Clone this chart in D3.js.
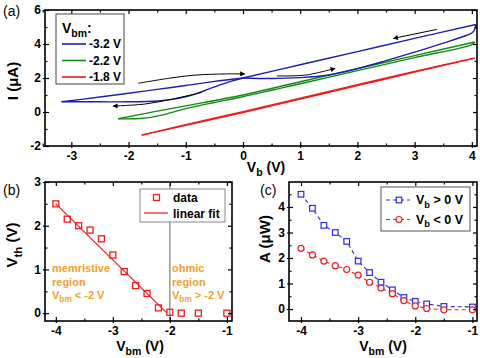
<!DOCTYPE html>
<html>
<head>
<meta charset="utf-8">
<script src="https://cdn.jsdelivr.net/npm/d3@7/dist/d3.min.js"></script>
<style>
  body { margin: 0; background: #fff; }
  svg { font-family: "Liberation Sans", Arial, sans-serif; font-weight: bold; }
</style>
</head>
<body>
<svg id="fig" width="480" height="358"></svg>
<script>
// ---- panel (a): I-V loops, [Vb, I] ----
const blueNegLower = [[0, 2.0], [-0.2, 1.82], [-0.4, 1.6], [-0.6, 1.35], [-0.8, 1.1], [-1.0, 0.9], [-1.2, 0.76], [-1.5, 0.65], [-2.0, 0.6], [-2.5, 0.6], [-3.17, 0.6]];
const blueNegUpper = [[-3.17, 0.6], [-2.5, 0.88], [-2.0, 1.1], [-1.5, 1.33], [-1.0, 1.56], [-0.5, 1.8], [0, 2.0]];
const bluePosLower = [[0, 2.0], [0.5, 1.97], [1.0, 2.02], [1.5, 2.18], [2.0, 2.55], [2.5, 3.02], [3.0, 3.52], [3.5, 4.05], [3.9, 4.5], [4.0, 4.65], [4.05, 4.85], [4.07, 5.15]];
const bluePosUpper = [[4.07, 5.15], [3.0, 4.33], [2.0, 3.55], [1.0, 2.78], [0, 2.0]];
const greenUpper = [[-2.18, -0.4], [-1.5, 0.05], [-1.0, 0.36], [0, 1.0], [1, 1.78], [2, 2.55], [3, 3.32], [4.05, 4.12]];
const greenLower = [[-2.18, -0.4], [-1.75, -0.37], [-1.4, -0.17], [-1.0, 0.2], [-0.5, 0.56], [0, 0.9], [1, 1.66], [2, 2.43], [3, 3.2], [4.0, 3.97], [4.05, 4.12]];
const redFwd = [[-1.77, -1.36], [-1, -0.78], [0, -0.03], [1, 0.76], [2, 1.55], [3, 2.35], [4.05, 3.17]];
const redBack = [[4.05, 3.17], [3, 2.39], [2, 1.6], [1, 0.81], [0, 0.02], [-1, -0.74], [-1.77, -1.36]];
const arrows = [
  [[-1.83, 1.69], [-1.3, 1.98], [-0.84, 2.17], [-0.3, 2.24], [0.03, 2.24]],
  [[-0.72, 1.15], [-1.25, 0.75], [-1.71, 0.47], [-2.27, 0.35]],
  [[3.39, 4.86], [2.63, 4.33]],
  [[0.59, 2.12], [1.11, 2.18], [1.61, 2.57]]
];
const legendA = ["-3.2 V", "-2.2 V", "-1.8 V"];

// ---- panel (b): threshold voltage ----
const vbm = [-4, -3.8, -3.6, -3.4, -3.2, -3.0, -2.8, -2.6, -2.4, -2.2, -2.0, -1.8, -1.5, -1.0];
const vth = [2.5, 2.15, 2.0, 1.9, 1.7, 1.33, 0.95, 0.63, 0.45, 0.12, 0.02, 0.0, 0.0, 0.0];
const fitLine = [[-4.0, 2.5], [-2.05, 0.0]];

// ---- panel (c): loop area ----
const areaPos = [4.5, 3.95, 3.28, 3.0, 2.65, 1.88, 1.43, 1.05, 0.75, 0.45, 0.3, 0.2, 0.1, 0.08];
const areaNeg = [2.38, 2.12, 1.88, 1.7, 1.55, 1.33, 1.05, 0.82, 0.6, 0.33, 0.12, 0.02, -0.03, -0.03];

// ticks
const xMajA = [-3, -2, -1, 0, 1, 2, 3, 4], xMinA = [-3.5, -2.5, -1.5, -0.5, 0.5, 1.5, 2.5, 3.5];
const yMajA = [-2, 0, 2, 4, 6], yMinA = [-1, 1, 3, 5];
const xMajB = [-4, -3, -2, -1], xMinB = [-3.5, -2.5, -1.5];
const yMajB = [0, 1, 2, 3], yMinB = [0.5, 1.5, 2.5];
const yMajC = [0, 1, 2, 3, 4], yMinC = [0.5, 1.5, 2.5, 3.5, 4.5];

const BLUE = "#1f1fae", GREEN = "#138a13", RED = "#ee1c1c", ORANGE = "#f29f2c";
const BLUE_C = "#2c2ce0", RED_C = "#e82020";

const svg = d3.select("#fig");
const defs = svg.append("defs");
defs.append("marker").attr("id", "head")
  .attr("viewBox", "0 0 10 10").attr("refX", 9).attr("refY", 5)
  .attr("markerWidth", 7).attr("markerHeight", 5).attr("markerUnits", "userSpaceOnUse")
  .attr("orient", "auto")
  .append("path").attr("d", "M0,0 L10,5 L0,10 Z").attr("fill", "#000");

function drawAxes(x, y, xMaj, xMin, yMaj, yMin) {
  const [x0, x1] = x.range(), [y0, y1] = y.range();
  const fmt = d => String(d);
  const g = svg.append("g");
  const add = (tr, ax) => g.append("g").attr("transform", tr).call(ax);
  add(`translate(0,${y0})`, d3.axisBottom(x).tickValues(xMaj).tickSize(-4).tickPadding(5).tickFormat(fmt));
  add(`translate(0,${y0})`, d3.axisBottom(x).tickValues(xMaj).tickSize(2).tickFormat(""));
  add(`translate(0,${y0})`, d3.axisBottom(x).tickValues(xMin).tickSize(-2.5).tickFormat(""));
  add(`translate(0,${y1})`, d3.axisTop(x).tickValues(xMaj).tickSize(-4).tickFormat(""));
  add(`translate(0,${y1})`, d3.axisTop(x).tickValues(xMin).tickSize(-2.5).tickFormat(""));
  add(`translate(${x0},0)`, d3.axisLeft(y).tickValues(yMaj).tickSize(-4).tickPadding(4).tickFormat(fmt));
  add(`translate(${x0},0)`, d3.axisLeft(y).tickValues(yMaj).tickSize(2).tickFormat(""));
  add(`translate(${x0},0)`, d3.axisLeft(y).tickValues(yMin).tickSize(-2.5).tickFormat(""));
  add(`translate(${x1},0)`, d3.axisRight(y).tickValues(yMaj).tickSize(-4).tickFormat(""));
  add(`translate(${x1},0)`, d3.axisRight(y).tickValues(yMin).tickSize(-2.5).tickFormat(""));
  g.selectAll(".domain").remove();
  g.selectAll(".tick line").attr("stroke", "#000").attr("stroke-width", 1.2);
  g.selectAll(".tick text").attr("fill", "#000").style("font-size", "12px")
    .style("font-family", "'Liberation Sans', Arial, sans-serif").style("font-weight", "bold");
  svg.append("rect").attr("x", x0).attr("y", y1).attr("width", x1 - x0).attr("height", y0 - y1)
    .attr("fill", "none").attr("stroke", "#000").attr("stroke-width", 1.6);
}

// label with subscript: parts = [[text, isSub], ...]
function subText(sel, parts, size) {
  let shifted = false;
  parts.forEach(([t, sub]) => {
    const ts = sel.append("tspan").text(t);
    if (sub) { ts.attr("dy", size * 0.3).style("font-size", (size * 0.75) + "px"); shifted = true; }
    else if (shifted) { ts.attr("dy", -size * 0.3); shifted = false; }
  });
  return sel;
}

function axisTitle(x, y, rot, parts, size) {
  const t = svg.append("text").attr("transform", `translate(${x},${y}) rotate(${rot})`)
    .attr("text-anchor", "middle").style("font-size", size + "px").attr("fill", "#000");
  subText(t, parts, size);
}

// ================= panel (a) =================
const xA = d3.scaleLinear().domain([-3.46, 4.09]).range([45, 477]);
const yA = d3.scaleLinear().domain([-2, 6]).range([146, 10]);
const lineA = d3.line().x(d => xA(d[0])).y(d => yA(d[1])).curve(d3.curveCatmullRom.alpha(0.5));

const curves = [
  [redFwd, RED], [redBack, RED],
  [greenLower, GREEN], [greenUpper, GREEN],
  [blueNegLower, BLUE], [blueNegUpper, BLUE], [bluePosLower, BLUE], [bluePosUpper, BLUE]
];
svg.append("g").selectAll("path").data(curves).join("path")
  .attr("d", d => lineA(d[0])).attr("fill", "none")
  .attr("stroke", d => d[1]).attr("stroke-width", 1.4);

svg.append("g").selectAll("path").data(arrows).join("path")
  .attr("d", d => lineA(d)).attr("fill", "none").attr("stroke", "#000")
  .attr("stroke-width", 1).attr("marker-end", "url(#head)");

drawAxes(xA, yA, xMajA, xMinA, yMajA, yMinA);

// legend (a)
const legA = svg.append("g");
legA.append("rect").attr("x", 56).attr("y", 14).attr("width", 68).attr("height", 70)
  .attr("fill", "#fff").attr("stroke", "#444").attr("stroke-width", 1);
subText(legA.append("text").attr("x", 62).attr("y", 33).style("font-size", "14px"),
  [["V"], ["bm", true], [":"]], 14);
legendA.forEach((lab, i) => {
  const yy = 44 + i * 16.5;
  legA.append("line").attr("x1", 62).attr("x2", 86).attr("y1", yy).attr("y2", yy)
    .attr("stroke", [BLUE, GREEN, RED][i]).attr("stroke-width", 1.6);
  legA.append("text").attr("x", 89).attr("y", yy + 4.3).style("font-size", "12px").text(lab);
});

axisTitle(18, 81, -90, [["I (μA)"]], 15);
axisTitle(266, 172, 0, [["V"], ["b", true], [" (V)"]], 14);
svg.append("text").attr("x", 3).attr("y", 16).style("font-weight", "normal").style("font-size", "14px").text("(a)");

// ================= panel (b) =================
const xB = d3.scaleLinear().domain([-4.19, -0.91]).range([45, 232]);
const yB = d3.scaleLinear().domain([-0.18, 3.0]).range([321, 182]);

svg.append("line").attr("x1", xB(-2)).attr("x2", xB(-2)).attr("y1", yB.range()[1]).attr("y2", yB.range()[0])
  .attr("stroke", "#808080").attr("stroke-width", 1.2);

svg.append("path").attr("d", d3.line().x(d => xB(d[0])).y(d => yB(d[1]))(fitLine))
  .attr("fill", "none").attr("stroke", RED).attr("stroke-width", 1.2);

svg.append("g").selectAll("rect").data(vbm.map((v, i) => [v, vth[i]])).join("rect")
  .attr("x", d => xB(d[0]) - 3).attr("y", d => yB(d[1]) - 3).attr("width", 6).attr("height", 6)
  .attr("fill", "none").attr("stroke", RED).attr("stroke-width", 1.3);

drawAxes(xB, yB, xMajB, xMinB, yMajB, yMinB);

// legend (b)
const legB = svg.append("g");
legB.append("rect").attr("x", 140).attr("y", 189).attr("width", 85).attr("height", 33)
  .attr("fill", "#fff").attr("stroke", "#888").attr("stroke-width", 1);
legB.append("rect").attr("x", 153.5).attr("y", 194.5).attr("width", 6).attr("height", 6)
  .attr("fill", "none").attr("stroke", RED).attr("stroke-width", 1.3);
legB.append("text").attr("x", 173).attr("y", 202).style("font-size", "12px").text("data");
legB.append("line").attr("x1", 144).attr("x2", 168).attr("y1", 213).attr("y2", 213)
  .attr("stroke", RED).attr("stroke-width", 1.2);
legB.append("text").attr("x", 173).attr("y", 217.5).style("font-size", "12px").text("linear fit");

// region notes
[[52, "memristive", "<"], [172, "ohmic", ">"]].forEach(([x0, w, op]) => {
  const g = svg.append("g").attr("fill", ORANGE).style("font-size", "11px");
  g.append("text").attr("x", x0).attr("y", 272).text(w);
  g.append("text").attr("x", x0).attr("y", 285.5).text("region");
  subText(g.append("text").attr("x", x0).attr("y", 299), [["V"], ["bm", true], [` ${op} -2 V`]], 11);
});

axisTitle(17, 245, -90, [["V"], ["th", true], [" (V)"]], 15);
axisTitle(140, 351, 0, [["V"], ["bm", true], [" (V)"]], 14);
svg.append("text").attr("x", 3).attr("y", 195).style("font-weight", "normal").style("font-size", "14px").text("(b)");

// ================= panel (c) =================
const xC = d3.scaleLinear().domain([-4.21, -0.92]).range([289, 477]);
const yC = d3.scaleLinear().domain([-0.47, 4.98]).range([321, 182]);
const lineC = d3.line().x(d => xC(d[0])).y(d => yC(d[1]));
const posPts = vbm.map((v, i) => [v, areaPos[i]]);
const negPts = vbm.map((v, i) => [v, areaNeg[i]]);

svg.append("path").attr("d", lineC(posPts)).attr("fill", "none").attr("stroke", BLUE_C)
  .attr("stroke-width", 1.1).attr("stroke-dasharray", "4,3");
svg.append("path").attr("d", lineC(negPts)).attr("fill", "none").attr("stroke", RED_C)
  .attr("stroke-width", 1.1).attr("stroke-dasharray", "4,3");

svg.append("g").selectAll("rect").data(posPts).join("rect")
  .attr("x", d => xC(d[0]) - 2.8).attr("y", d => yC(d[1]) - 2.8).attr("width", 5.6).attr("height", 5.6)
  .attr("fill", "#fff").attr("stroke", BLUE_C).attr("stroke-width", 1.2);
svg.append("g").selectAll("circle").data(negPts).join("circle")
  .attr("cx", d => xC(d[0])).attr("cy", d => yC(d[1])).attr("r", 3)
  .attr("fill", "#fff").attr("stroke", RED_C).attr("stroke-width", 1.2);

drawAxes(xC, yC, xMajB, xMinB, yMajC, yMinC);

// legend (c)
const legC = svg.append("g");
legC.append("rect").attr("x", 381).attr("y", 187).attr("width", 89).attr("height", 44)
  .attr("fill", "#fff").attr("stroke", "#555").attr("stroke-width", 1);
[[BLUE_C, "square", ">", 200], [RED_C, "circle", "<", 219.5]].forEach(([c, shape, op, yy]) => {
  legC.append("line").attr("x1", 386).attr("x2", 410).attr("y1", yy).attr("y2", yy)
    .attr("stroke", c).attr("stroke-width", 1.1).attr("stroke-dasharray", "4,3");
  if (shape === "square") {
    legC.append("rect").attr("x", 396.2).attr("y", yy - 2.8).attr("width", 5.6).attr("height", 5.6)
      .attr("fill", "#fff").attr("stroke", c).attr("stroke-width", 1.2);
  } else {
    legC.append("circle").attr("cx", 399).attr("cy", yy).attr("r", 3)
      .attr("fill", "#fff").attr("stroke", c).attr("stroke-width", 1.2);
  }
  subText(legC.append("text").attr("x", 416).attr("y", yy + 4).style("font-size", "12.5px"),
    [["V"], ["b", true], [` ${op} 0 V`]], 12.5);
});

axisTitle(270, 239, -90, [["A (μW)"]], 15);
axisTitle(383, 351, 0, [["V"], ["bm", true], [" (V)"]], 14);
svg.append("text").attr("x", 260).attr("y", 195).style("font-weight", "normal").style("font-size", "14px").text("(c)");
</script>
</body>
</html>
